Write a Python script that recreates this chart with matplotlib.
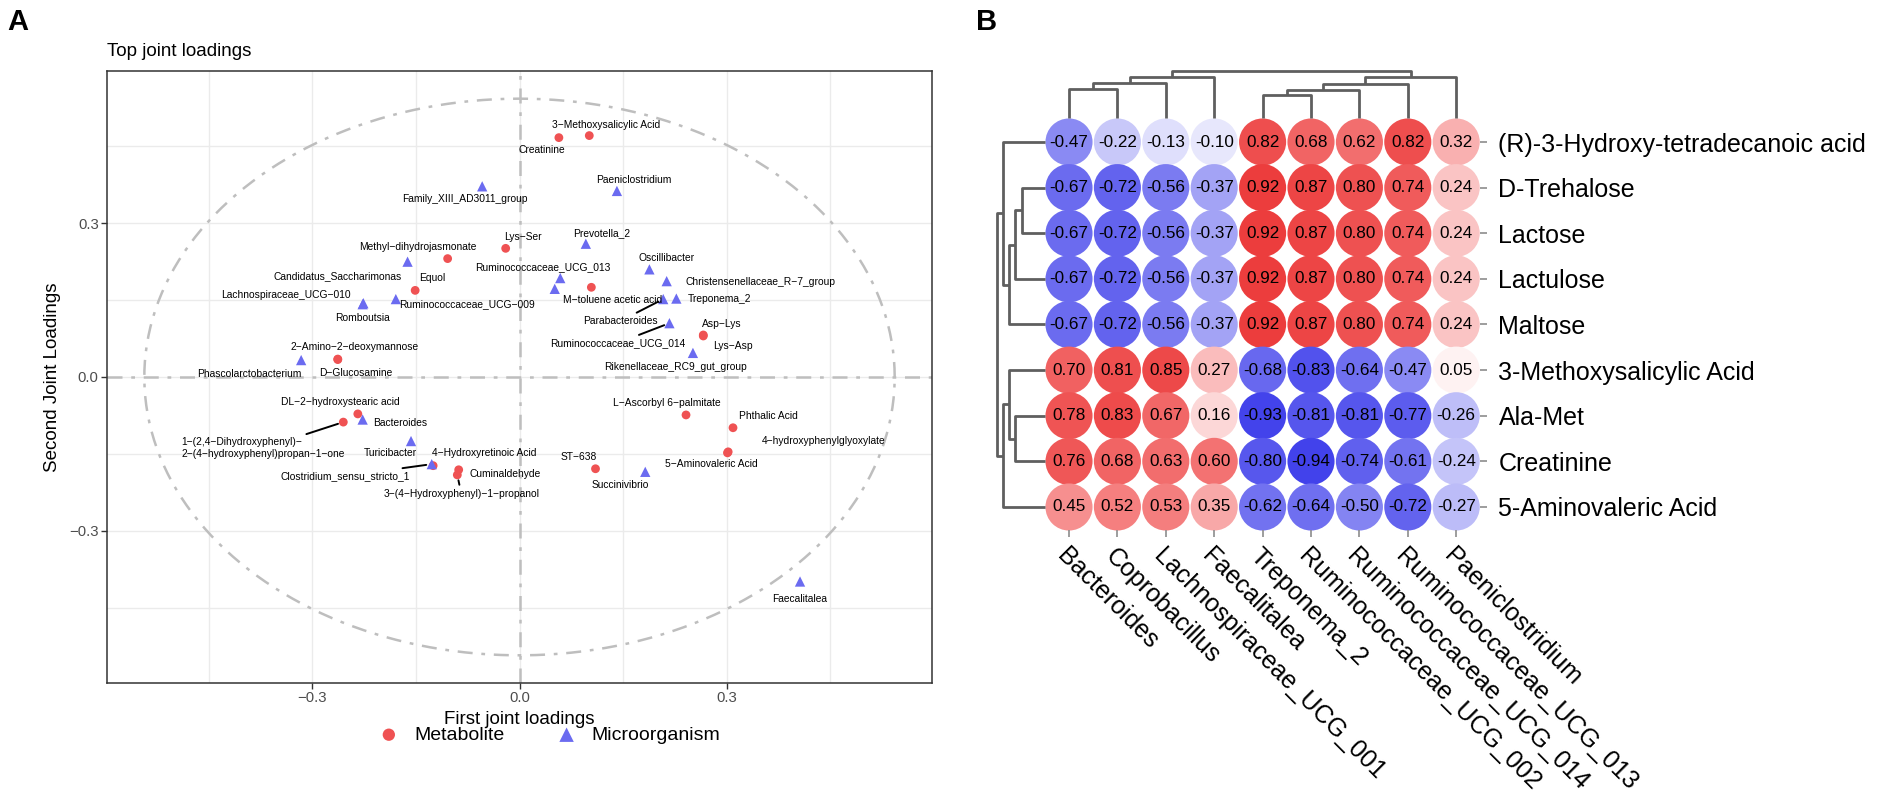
import matplotlib
matplotlib.use('Agg')
import matplotlib.pyplot as plt
import numpy as np
from matplotlib.colors import LinearSegmentedColormap

plt.rcParams['font.family'] = ['Liberation Sans', 'DejaVu Sans']

# ---- panel A: joint loadings ----
met_names = ['3-Methoxysalicylic Acid', 'Creatinine', 'Lys-Ser', 'Methyl-dihydrojasmonate', 'Equol',
             'M-toluene acetic acid', 'Asp-Lys', 'Lys-Asp', '2-Amino-2-deoxymannose', 'D-Glucosamine',
             'DL-2-hydroxystearic acid',
             '1-(2,4-Dihydroxyphenyl)-\n2-(4-hydroxyphenyl)propan-1-one',
             '4-Hydroxyretinoic Acid', 'Cuminaldehyde', '3-(4-Hydroxyphenyl)-1-propanol', 'ST-638',
             'L-Ascorbyl 6-palmitate', 'Phthalic Acid', '4-hydroxyphenylglyoxylate', '5-Aminovaleric Acid']
met_x = [0.101, 0.057, -0.020, -0.104, -0.151, 0.104, 0.266, 0.266, -0.263, -0.263,
         -0.234, -0.255, -0.125, -0.088, -0.090, 0.110, 0.241, 0.309, 0.302, 0.301]
met_y = [0.471, 0.467, 0.251, 0.231, 0.169, 0.175, 0.082, 0.080, 0.035, 0.034,
         -0.072, -0.088, -0.173, -0.181, -0.191, -0.179, -0.074, -0.099, -0.146, -0.148]

mic_names = ['Family_XIII_AD3011_group', 'Paeniclostridium', 'Prevotella_2', 'Candidatus_Saccharimonas',
             'Ruminococcaceae_UCG-009', 'Romboutsia', 'Lachnospiraceae_UCG-010', 'Ruminococcaceae_UCG_013',
             '', 'Oscillibacter', 'Christensenellaceae_R-7_group', 'Treponema_2', 'Parabacteroides',
             'Ruminococcaceae_UCG_014', 'Rikenellaceae_RC9_gut_group', 'Phascolarctobacterium',
             'Bacteroides', 'Turicibacter', 'Clostridium_sensu_stricto_1', 'Succinivibrio', 'Faecalitalea']
mic_x = [-0.054, 0.141, 0.096, -0.162, -0.179, -0.227, -0.226, 0.059, 0.051, 0.188, 0.213,
         0.227, 0.208, 0.217, 0.251, -0.316, -0.227, -0.157, -0.127, 0.182, 0.406]
mic_y = [0.372, 0.363, 0.260, 0.225, 0.152, 0.142, 0.144, 0.193, 0.172, 0.210, 0.187,
         0.153, 0.152, 0.105, 0.047, 0.033, -0.083, -0.125, -0.170, -0.185, -0.399]

circle_r = 0.543

# ---- panel B: correlation heatmap ----
heat_cols = ['Bacteroides', 'Coprobacillus', 'Lachnospiraceae_UCG_001', 'Faecalitalea', 'Treponema_2',
             'Ruminococcaceae_UCG_002', 'Ruminococcaceae_UCG_014', 'Ruminococcaceae_UCG_013', 'Paeniclostridium']
heat_rows = ['(R)-3-Hydroxy-tetradecanoic acid', 'D-Trehalose', 'Lactose', 'Lactulose', 'Maltose',
             '3-Methoxysalicylic Acid', 'Ala-Met', 'Creatinine', '5-Aminovaleric Acid']
heat_vals = [
    [-0.47, -0.22, -0.13, -0.10, 0.82, 0.68, 0.62, 0.82, 0.32],
    [-0.67, -0.72, -0.56, -0.37, 0.92, 0.87, 0.80, 0.74, 0.24],
    [-0.67, -0.72, -0.56, -0.37, 0.92, 0.87, 0.80, 0.74, 0.24],
    [-0.67, -0.72, -0.56, -0.37, 0.92, 0.87, 0.80, 0.74, 0.24],
    [-0.67, -0.72, -0.56, -0.37, 0.92, 0.87, 0.80, 0.74, 0.24],
    [0.70, 0.81, 0.85, 0.27, -0.68, -0.83, -0.64, -0.47, 0.05],
    [0.78, 0.83, 0.67, 0.16, -0.93, -0.81, -0.81, -0.77, -0.26],
    [0.76, 0.68, 0.63, 0.60, -0.80, -0.94, -0.74, -0.61, -0.24],
    [0.45, 0.52, 0.53, 0.35, -0.62, -0.64, -0.50, -0.72, -0.27],
]
# merges: (child a, child b, height); new clusters get ids n, n+1, ...
col_merges = [(0, 1, 0.62), (9, 2, 0.74), (10, 3, 0.87), (4, 5, 0.48),
              (12, 6, 0.59), (13, 7, 0.73), (14, 8, 0.87), (11, 15, 1.0)]
row_merges = [(1, 2, 0.48), (9, 3, 0.625), (10, 4, 0.75), (0, 11, 0.875),
              (6, 7, 0.625), (5, 13, 0.75), (14, 8, 0.875), (12, 15, 1.0)]

RED = '#EF5253'
BLUE = '#6B6BF0'
W, H = 1902, 811

fig = plt.figure(figsize=(W / 100, H / 100), dpi=100)

def fbox(x0, y0, x1, y1):
    # pixel box (top-left origin) -> figure fraction rect
    return [x0 / W, 1 - y1 / H, (x1 - x0) / W, (y1 - y0) / H]

# label offsets in pixels (dx, dy up) and whether a segment is drawn
lab_off = {
    '3-Methoxysalicylic Acid': (17, 11, False), 'Creatinine': (-17, -12, False), 'Lys-Ser': (17, 11, False),
    'Methyl-dihydrojasmonate': (-30, 12, False), 'Equol': (17, 12, False),
    'M-toluene acetic acid': (21, -13, False), 'Asp-Lys': (19, 11, False), 'Lys-Asp': (30, -10, False),
    '2-Amino-2-deoxymannose': (17, 12, False), 'D-Glucosamine': (18, -13, False),
    'DL-2-hydroxystearic acid': (-17, 12, False),
    '1-(2,4-Dihydroxyphenyl)-\n2-(4-hydroxyphenyl)propan-1-one': (-80, -26, True),
    '4-Hydroxyretinoic Acid': (51, 13, False), 'Cuminaldehyde': (46, -4, False),
    '3-(4-Hydroxyphenyl)-1-propanol': (4, -19, True), 'ST-638': (-17, 12, False),
    'L-Ascorbyl 6-palmitate': (-19, 12, False), 'Phthalic Acid': (35, 12, False),
    '4-hydroxyphenylglyoxylate': (95, 11, False), '5-Aminovaleric Acid': (-16, -11, False),
    'Family_XIII_AD3011_group': (-17, -13, False), 'Paeniclostridium': (17, 11, False),
    'Prevotella_2': (16, 11, False), 'Candidatus_Saccharimonas': (-70, -14, False),
    'Ruminococcaceae_UCG-009': (71, -5, False), 'Romboutsia': (0, -14, False),
    'Lachnospiraceae_UCG-010': (-77, 8, False), 'Ruminococcaceae_UCG_013': (-17, 11, False),
    'Oscillibacter': (17, 11, False), 'Christensenellaceae_R-7_group': (94, -1, False),
    'Treponema_2': (43, 0, False), 'Parabacteroides': (-43, -22, True),
    'Ruminococcaceae_UCG_014': (-52, -20, True), 'Rikenellaceae_RC9_gut_group': (-17, -14, False),
    'Phascolarctobacterium': (-52, -14, False), 'Bacteroides': (38, -3, False),
    'Turicibacter': (-21, -12, False), 'Clostridium_sensu_stricto_1': (-87, -12, True),
    'Succinivibrio': (-25, -13, False), 'Faecalitalea': (0, -17, False),
}

axA = fig.add_axes(fbox(107, 71, 932, 683))
lim = 0.597
axA.set_xlim(-lim, lim)
axA.set_ylim(-lim, lim)
major = [-0.3, 0.0, 0.3]
minor = [-0.45, -0.15, 0.15, 0.45]
axA.set_xticks(major)
axA.set_yticks(major)
axA.set_xticks(minor, minor=True)
axA.set_yticks(minor, minor=True)
axA.set_xticklabels(['\u22120.3', '0.0', '0.3'])
axA.set_yticklabels(['\u22120.3', '0.0', '0.3'])
axA.grid(True, which='both', color='#EBEBEB', lw=1.0)
axA.set_axisbelow(True)
axA.tick_params(which='minor', length=0)
axA.tick_params(which='major', length=4, width=1, color='#333333', labelsize=10.7,
                labelcolor='#4D4D4D', pad=2)
for s in axA.spines.values():
    s.set_color('#333333')
    s.set_linewidth(1.1)

dd = (0, (6, 3.5, 1.5, 3.5))
axA.axhline(0, color='#BEBEBE', lw=1.8, ls=dd, zorder=1)
axA.axvline(0, color='#BEBEBE', lw=1.8, ls=dd, zorder=1)
t = np.linspace(0, 2 * np.pi, 400)
axA.plot(circle_r * np.cos(t), circle_r * np.sin(t), color='#BEBEBE', lw=1.8, ls=dd, zorder=1)

axA.scatter(met_x, met_y, s=40, marker='o', color=RED, edgecolors='none', zorder=3, label='Metabolite')
axA.scatter(mic_x, mic_y, s=55, marker='^', color=BLUE, edgecolors='none', zorder=3, label='Microorganism')

for names, xs, ys in [(met_names, met_x, met_y), (mic_names, mic_x, mic_y)]:
    for name, x, y in zip(names, xs, ys):
        if not name:
            continue
        dx, dy, seg = lab_off[name]
        txt = name.replace('-', '\u2212')
        kw = dict(xytext=(dx, dy), textcoords='offset pixels', ha='center', va='center',
                  fontsize=7.4, multialignment='left', zorder=4)
        if seg:
            kw['arrowprops'] = dict(arrowstyle='-', color='black', lw=1.4, shrinkA=1, shrinkB=4)
        axA.annotate(txt, (x, y), **kw)

axA.set_xlabel('First joint loadings', fontsize=13.5, labelpad=4)
axA.set_ylabel('Second Joint Loadings', fontsize=13.5, labelpad=6)
axA.set_title('Top joint loadings', loc='left', fontsize=13.5, pad=11)
fig.legend(loc='center', bbox_to_anchor=(545 / W, 1 - 735 / H), ncol=2, frameon=False,
           fontsize=14, handletextpad=0.3, columnspacing=2.2, markerscale=1.4)

fig.text(18 / W, 1 - 22 / H, 'A', fontsize=21, fontweight='bold', ha='center', va='center')
fig.text(987 / W, 1 - 22 / H, 'B', fontsize=21, fontweight='bold', ha='center', va='center')

# ---- panel B ----
nr, nc = len(heat_rows), len(heat_cols)
hx0, hx1 = 1044.8, 1480.4
hy0, hy1 = 119.2, 529.8
axB = fig.add_axes(fbox(hx0, hy0, hx1, hy1))
vals = np.array(heat_vals)
cmap = LinearSegmentedColormap.from_list(
    'bwr2', [(0, '#3A3AEA'), (0.25, '#8484F2'), (0.5, '#FFFFFF'), (0.75, '#F58383'), (1, '#EA3030')])
rr, cc = np.meshgrid(np.arange(nr), np.arange(nc), indexing='ij')
axB.scatter(cc.ravel(), rr.ravel(), c=vals.ravel(), cmap=cmap, vmin=-1, vmax=1, s=1150,
            edgecolors='none', clip_on=False)
for i in range(nr):
    for j in range(nc):
        axB.text(j, i, f'{vals[i, j]:.2f}', ha='center', va='center', fontsize=12.3, color='black')
axB.set_xlim(-0.5, nc - 0.5)
axB.set_ylim(nr - 0.5, -0.5)
for s in axB.spines.values():
    s.set_visible(False)
axB.yaxis.tick_right()
axB.set_yticks(range(nr))
axB.set_yticklabels(heat_rows, fontsize=18)
axB.set_xticks(range(nc))
axB.set_xticklabels(heat_cols, fontsize=18, rotation=-45, ha='left', rotation_mode='anchor')
axB.tick_params(axis='y', length=5, width=1.2, color='#8C8C8C', pad=8)
axB.tick_params(axis='x', length=5, width=1.2, color='#8C8C8C', pad=5)


def draw_dendro(ax, merges, n, top):
    pos = {i: float(i) for i in range(n)}
    hgt = {i: 0.0 for i in range(n)}
    for k, (a, b, h) in enumerate(merges):
        xs = [pos[a], pos[a], pos[b], pos[b]]
        hs = [hgt[a], h, h, hgt[b]]
        if top:
            ax.plot(xs, hs, color='#5F5F5F', lw=2, clip_on=False, solid_capstyle='butt')
        else:
            ax.plot(hs, xs, color='#5F5F5F', lw=2, clip_on=False, solid_capstyle='butt')
        pos[n + k] = (pos[a] + pos[b]) / 2
        hgt[n + k] = h
    ax.axis('off')


axC = fig.add_axes(fbox(hx0, 71, hx1, 118))
draw_dendro(axC, col_merges, nc, True)
axC.set_xlim(-0.5, nc - 0.5)
axC.set_ylim(0, 1)

axR = fig.add_axes(fbox(997, hy0, 1045, hy1))
draw_dendro(axR, row_merges, nr, False)
axR.set_xlim(1, 0)
axR.set_ylim(nr - 0.5, -0.5)

fig.savefig('out.png', dpi=100)
